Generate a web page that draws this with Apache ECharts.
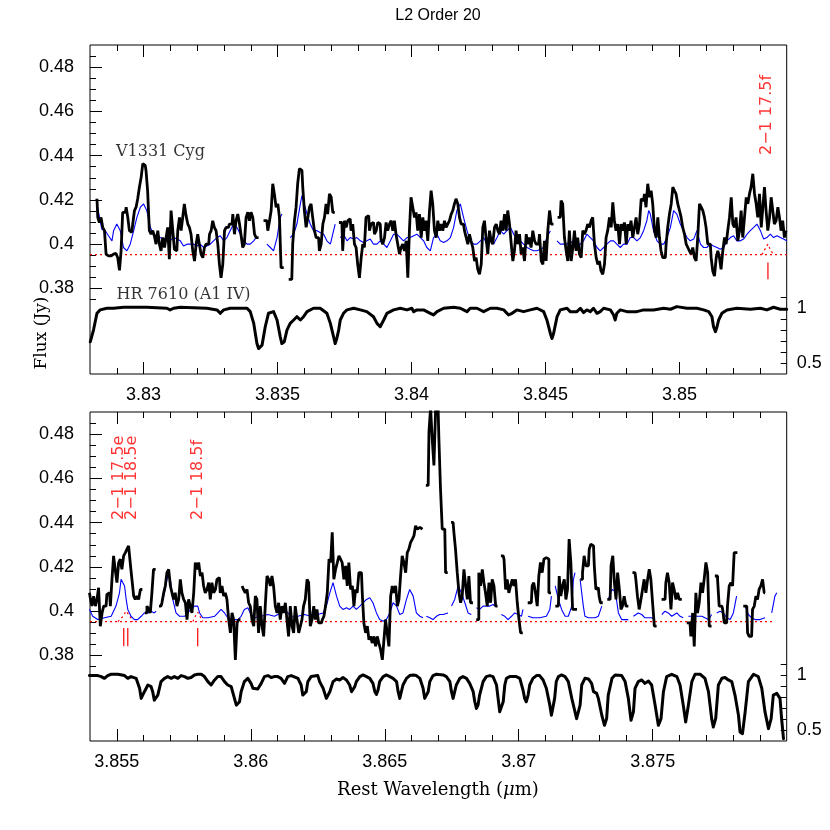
<!DOCTYPE html>
<html>
<head>
<meta charset="utf-8">
<script src="https://cdn.jsdelivr.net/npm/echarts@6/dist/echarts.min.js"></script>
<style>html,body{margin:0;padding:0;background:#fff;}#c{width:830px;height:830px;}</style>
</head>
<body>
<div id="c"></div>
<script>
// ---------------- axis ranges and ticks ----------------
const xRangeTop = [3.828, 3.854];
const xRangeBottom = [3.854, 3.880];
const xMajorTop = [3.83, 3.835, 3.84, 3.845, 3.85];
const xMinorTop = [3.829, 3.831, 3.832, 3.833, 3.834, 3.836, 3.837, 3.838, 3.839, 3.841, 3.842, 3.843, 3.844, 3.846, 3.847, 3.848, 3.849, 3.851, 3.852, 3.853];
const xMajorBottom = [3.855, 3.86, 3.865, 3.87, 3.875];
const xMinorBottom = [3.856, 3.857, 3.858, 3.859, 3.861, 3.862, 3.863, 3.864, 3.866, 3.867, 3.868, 3.869, 3.871, 3.872, 3.873, 3.874, 3.876, 3.877, 3.878, 3.879];
const fluxRange = [0.375, 0.49];
const fluxMajor = [0.38, 0.40, 0.42, 0.44, 0.46, 0.48];
const fluxMinor = [0.375, 0.385, 0.39, 0.395, 0.405, 0.41, 0.415, 0.425, 0.43, 0.435, 0.445, 0.45, 0.455, 0.465, 0.47, 0.475, 0.485];
const hrRange = [0.4, 1.1];
const hrTicks = [0.5, 0.6, 0.7, 0.8, 0.9, 1.0, 1.1];
const hrLabels = [0.5, 1.0];
const continuumTop = [[3.828, 0.3953], [3.854, 0.3953]];
const continuumBottom = [[3.854, 0.3953], [3.8795, 0.3953]];

// ---------------- V1331 Cyg spectrum (black) ----------------
const v1331Top = [[3.82826,0.4205],[3.82832,0.4121],[3.82838,0.4098],[3.82844,0.4121],[3.82851,0.4076],[3.82857,0.4061],[3.82863,0.3955],[3.82869,0.3947],[3.82876,0.3947],[3.82882,0.3952],[3.82888,0.3955],[3.82894,0.3958],[3.82900,0.3962],[3.82907,0.3939],[3.82913,0.3882],[3.82919,0.3970],[3.82925,0.4144],[3.82932,0.4144],[3.82938,0.4167],[3.82944,0.4121],[3.82950,0.4061],[3.82956,0.4053],[3.82963,0.4091],[3.82969,0.4152],[3.82975,0.4167],[3.82981,0.4205],[3.82988,0.4258],[3.82994,0.4303],[3.83000,0.4364],[3.83006,0.4356],[3.83012,0.4333],[3.83018,0.4242],[3.83025,0.4061],[3.83031,0.4045],[3.83037,0.4061],[3.83043,0.4038],[3.83050,0.4000],[3.83056,0.4061],[3.83062,0.4000],[3.83068,0.3970],[3.83075,0.4030],[3.83081,0.3985],[3.83087,0.4030],[3.83093,0.4076],[3.83099,0.3932],[3.83106,0.4152],[3.83112,0.4061],[3.83118,0.3977],[3.83124,0.3970],[3.83131,0.4061],[3.83137,0.4121],[3.83143,0.4061],[3.83149,0.4121],[3.83155,0.4182],[3.83162,0.4129],[3.83168,0.4091],[3.83174,0.4076],[3.83180,0.4045],[3.83187,0.3970],[3.83193,0.3924],[3.83199,0.4000],[3.83205,0.4045],[3.83211,0.4000],[3.83218,0.3955],[3.83224,0.3939],[3.83230,0.3985],[3.83236,0.4000],[3.83243,0.4000],[3.83249,0.4045],[3.83255,0.4061],[3.83261,0.4106],[3.83267,0.4076],[3.83274,0.4061],[3.83280,0.4000],[3.83286,0.3909],[3.83292,0.3848],[3.83299,0.3909],[3.83305,0.4061],[3.83311,0.4076],[3.83317,0.4076],[3.83323,0.4091],[3.83330,0.4091],[3.83336,0.4136],[3.83342,0.4045],[3.83348,0.4106],[3.83355,0.4136],[3.83361,0.4091],[3.83367,0.4038],[3.83373,0.3985],[3.83379,0.4000],[3.83386,0.4121],[3.83392,0.4144],[3.83398,0.4106],[3.83404,0.4144],[3.83411,0.4121],[3.83417,0.4045],[3.83423,0.4030],[3.83435,null],[3.83460,0.4106],[3.83467,0.4061],[3.83473,0.4106],[3.83479,0.4152],[3.83485,0.4273],[3.83491,0.4227],[3.83498,0.4167],[3.83504,0.4182],[3.83510,0.4121],[3.83516,0.3894],[3.83530,null],[3.83553,0.3841],[3.83560,0.4000],[3.83566,0.4106],[3.83572,0.4167],[3.83578,0.4273],[3.83585,0.4341],[3.83591,0.4333],[3.83597,0.4258],[3.83603,0.4152],[3.83610,0.4076],[3.83616,0.4121],[3.83622,0.4167],[3.83628,0.4182],[3.83634,0.4121],[3.83641,0.4061],[3.83647,0.4030],[3.83653,0.4030],[3.83659,0.3970],[3.83666,0.4000],[3.83672,0.4091],[3.83678,0.4121],[3.83684,0.4182],[3.83690,0.4136],[3.83697,0.4227],[3.83703,0.4212],[3.83709,0.4144],[3.83718,null],[3.83740,0.4098],[3.83746,0.3970],[3.83753,0.4106],[3.83759,0.4076],[3.83765,0.4106],[3.83771,0.4114],[3.83777,0.4061],[3.83784,0.4091],[3.83790,0.4000],[3.83796,0.3985],[3.83802,0.3909],[3.83809,0.3848],[3.83815,0.3939],[3.83821,0.4000],[3.83827,0.3985],[3.83833,0.4121],[3.83840,0.4129],[3.83846,0.4061],[3.83852,0.4091],[3.83858,0.4098],[3.83865,0.4045],[3.83871,0.4061],[3.83877,0.4098],[3.83883,0.4091],[3.83889,0.4023],[3.83896,0.4000],[3.83902,0.4030],[3.83908,0.4098],[3.83914,0.4061],[3.83921,0.4091],[3.83927,0.4106],[3.83933,0.4061],[3.83939,0.4106],[3.83945,0.4045],[3.83952,0.4000],[3.83958,0.3955],[3.83964,0.3985],[3.83970,0.4000],[3.83977,0.3970],[3.83983,0.4015],[3.83989,0.3848],[3.83995,0.4061],[3.84001,0.4212],[3.84008,0.4167],[3.84014,0.4121],[3.84020,0.4144],[3.84026,0.4061],[3.84033,0.4136],[3.84039,0.4030],[3.84045,0.4121],[3.84051,0.4061],[3.84057,0.4106],[3.84064,0.4015],[3.84070,0.4152],[3.84076,0.4242],[3.84082,0.4182],[3.84089,0.4061],[3.84095,0.4030],[3.84101,0.4106],[3.84107,0.4061],[3.84113,0.4091],[3.84120,0.4061],[3.84126,0.4106],[3.84132,0.4076],[3.84138,0.4091],[3.84145,0.4106],[3.84151,0.4136],[3.84157,0.4152],[3.84163,0.4182],[3.84169,0.4205],[3.84176,0.4182],[3.84182,0.4121],[3.84188,0.4091],[3.84194,0.4091],[3.84201,0.4061],[3.84207,0.4030],[3.84213,0.4000],[3.84219,0.4045],[3.84225,0.4015],[3.84232,0.3985],[3.84238,0.3924],[3.84244,0.3939],[3.84250,0.3886],[3.84257,0.3864],[3.84263,0.3909],[3.84269,0.4076],[3.84275,0.4106],[3.84281,0.4030],[3.84288,0.3955],[3.84294,0.4061],[3.84300,0.4015],[3.84306,0.4000],[3.84313,0.4076],[3.84319,0.4091],[3.84325,0.4061],[3.84331,0.4045],[3.84337,0.4106],[3.84344,0.4061],[3.84350,0.4136],[3.84356,0.4061],[3.84362,0.4152],[3.84369,0.4091],[3.84375,0.4000],[3.84381,0.3924],[3.84387,0.3970],[3.84393,0.4061],[3.84400,0.4000],[3.84406,0.4045],[3.84412,0.3955],[3.84418,0.3985],[3.84425,0.3924],[3.84431,0.4045],[3.84437,0.4000],[3.84443,0.4030],[3.84449,0.3985],[3.84456,0.4061],[3.84462,0.4015],[3.84468,0.4000],[3.84474,0.4000],[3.84481,0.4045],[3.84487,0.3924],[3.84493,0.3909],[3.84499,0.4015],[3.84505,0.3924],[3.84512,0.4061],[3.84518,0.4152],[3.84524,0.4091],[3.84535,null],[3.84555,0.4121],[3.84561,0.4197],[3.84567,0.4182],[3.84574,0.4030],[3.84580,0.3970],[3.84586,0.3924],[3.84592,0.4061],[3.84599,0.3924],[3.84605,0.3985],[3.84611,0.4061],[3.84617,0.3970],[3.84623,0.4030],[3.84630,0.3955],[3.84636,0.3939],[3.84642,0.4061],[3.84648,0.4045],[3.84654,0.4061],[3.84661,0.4091],[3.84667,0.4076],[3.84673,0.4106],[3.84679,0.4121],[3.84686,0.4000],[3.84692,0.3939],[3.84698,0.3909],[3.84704,0.3924],[3.84710,0.3879],[3.84717,0.3864],[3.84723,0.3909],[3.84729,0.4030],[3.84735,0.4061],[3.84742,0.4121],[3.84748,0.4076],[3.84754,0.4189],[3.84760,0.4106],[3.84766,0.4061],[3.84773,0.4091],[3.84779,0.4000],[3.84785,0.4091],[3.84791,0.4061],[3.84798,0.4098],[3.84804,0.4000],[3.84810,0.4091],[3.84816,0.4061],[3.84822,0.4106],[3.84829,0.4030],[3.84835,0.4076],[3.84841,0.4121],[3.84847,0.4045],[3.84854,0.4091],[3.84860,0.4205],[3.84866,0.4197],[3.84872,0.4227],[3.84878,0.4167],[3.84885,0.4273],[3.84891,0.4212],[3.84897,0.4242],[3.84903,0.4182],[3.84910,0.4061],[3.84916,0.4030],[3.84922,0.4121],[3.84928,0.4030],[3.84934,0.3970],[3.84941,0.3939],[3.84947,0.3939],[3.84953,0.4000],[3.84959,0.4076],[3.84966,0.4136],[3.84972,0.4182],[3.84978,0.4258],[3.84984,0.4242],[3.84990,0.4227],[3.84997,0.4182],[3.85003,0.4152],[3.85009,0.4121],[3.85015,0.4076],[3.85022,0.4045],[3.85028,0.4000],[3.85034,0.3985],[3.85040,0.3970],[3.85046,0.3955],[3.85053,0.3985],[3.85059,0.3939],[3.85065,0.3924],[3.85071,0.4030],[3.85078,0.4182],[3.85084,0.4167],[3.85090,0.4152],[3.85096,0.4121],[3.85102,0.4076],[3.85109,0.4000],[3.85115,0.4000],[3.85121,0.3939],[3.85127,0.3879],[3.85134,0.3856],[3.85140,0.3939],[3.85146,0.3970],[3.85152,0.3939],[3.85158,0.3886],[3.85165,0.3970],[3.85171,0.4030],[3.85177,0.4000],[3.85183,0.4061],[3.85190,0.4121],[3.85196,0.4212],[3.85202,0.4091],[3.85208,0.4076],[3.85214,0.4121],[3.85221,0.4015],[3.85227,0.4061],[3.85233,0.4152],[3.85239,0.4030],[3.85246,0.4121],[3.85252,0.4212],[3.85258,0.4182],[3.85264,0.4227],[3.85270,0.4258],[3.85277,0.4318],[3.85283,0.4227],[3.85289,0.4182],[3.85295,0.4121],[3.85302,0.4227],[3.85308,0.4076],[3.85314,0.4167],[3.85320,0.4258],[3.85326,0.4152],[3.85333,0.4061],[3.85339,0.4121],[3.85345,0.4212],[3.85351,0.4152],[3.85357,0.4091],[3.85364,0.4106],[3.85370,0.4167],[3.85376,0.4121],[3.85382,0.4061],[3.85388,0.4106],[3.85395,0.4030],[3.85400,0.4061]];

const v1331Bottom = [[3.85398,0.4083],[3.85404,0.4061],[3.85410,0.4023],[3.85417,0.4068],[3.85423,0.4023],[3.85429,0.4053],[3.85435,0.4106],[3.85442,0.3932],[3.85448,0.3992],[3.85454,0.4023],[3.85460,0.4023],[3.85466,0.4076],[3.85473,0.4083],[3.85479,0.4023],[3.85485,0.4144],[3.85491,0.4250],[3.85497,0.4189],[3.85504,0.4129],[3.85510,0.4220],[3.85516,0.4235],[3.85522,0.4189],[3.85529,0.4250],[3.85535,0.4265],[3.85541,0.4280],[3.85547,0.4295],[3.85553,0.4220],[3.85560,0.4144],[3.85566,0.4068],[3.85572,0.4053],[3.85578,0.4068],[3.85585,0.4053],[3.85591,0.4098],[3.85600,null],[3.85609,0.3992],[3.85616,0.4023],[3.85622,0.4008],[3.85628,0.3992],[3.85634,0.4083],[3.85640,0.4189],[3.85650,null],[3.85665,0.4023],[3.85672,0.4038],[3.85678,0.4083],[3.85684,0.4114],[3.85690,0.4174],[3.85697,0.4189],[3.85703,0.4114],[3.85709,0.4083],[3.85715,0.4053],[3.85721,0.4083],[3.85728,0.4023],[3.85734,0.4053],[3.85740,0.4144],[3.85746,0.4083],[3.85753,0.4053],[3.85759,0.4038],[3.85765,0.3962],[3.85771,0.4053],[3.85777,0.4023],[3.85784,0.3992],[3.85790,0.4083],[3.85796,0.4220],[3.85802,0.4189],[3.85809,0.4220],[3.85815,0.4159],[3.85821,0.4174],[3.85827,0.4114],[3.85833,0.4083],[3.85840,0.4098],[3.85846,0.4129],[3.85852,0.4053],[3.85858,0.4129],[3.85865,0.4083],[3.85871,0.4098],[3.85877,0.4144],[3.85883,0.4152],[3.85889,0.4083],[3.85896,0.4114],[3.85902,0.4068],[3.85908,0.4083],[3.85914,0.4053],[3.85921,0.3962],[3.85927,0.3902],[3.85933,0.3992],[3.85939,0.3962],[3.85946,0.3780],[3.85952,0.3947],[3.85958,0.3962],[3.85965,null],[3.85970,0.4114],[3.85976,0.4098],[3.85983,0.4083],[3.85989,0.4098],[3.85995,0.4038],[3.86001,0.4023],[3.86008,0.3962],[3.86014,0.3932],[3.86020,0.4068],[3.86026,0.4053],[3.86032,0.3902],[3.86039,0.4023],[3.86045,0.3932],[3.86051,0.3886],[3.86057,0.4023],[3.86064,0.4159],[3.86070,0.4144],[3.86076,0.4114],[3.86082,0.4159],[3.86088,0.4114],[3.86095,0.4023],[3.86101,0.3992],[3.86107,0.4038],[3.86113,0.3962],[3.86120,0.4023],[3.86126,0.3992],[3.86132,0.4038],[3.86138,0.3962],[3.86144,0.3886],[3.86151,0.4023],[3.86157,0.3932],[3.86163,0.3902],[3.86169,0.4023],[3.86176,0.3962],[3.86182,0.3902],[3.86188,0.3932],[3.86194,0.3962],[3.86200,0.4023],[3.86207,0.4053],[3.86213,0.4144],[3.86219,0.4129],[3.86225,0.3932],[3.86232,0.3962],[3.86238,0.4023],[3.86244,0.3962],[3.86250,0.4008],[3.86256,0.3947],[3.86264,0.3947],[3.86270,0.3962],[3.86276,0.3977],[3.86282,0.4023],[3.86289,0.4083],[3.86295,0.4235],[3.86301,0.4220],[3.86307,0.4356],[3.86313,0.4144],[3.86320,0.4189],[3.86326,0.4220],[3.86332,0.4250],[3.86338,0.4235],[3.86344,0.4220],[3.86351,0.4144],[3.86357,0.4205],[3.86363,0.4114],[3.86369,0.4220],[3.86376,0.4098],[3.86382,0.4114],[3.86388,0.4023],[3.86394,0.4098],[3.86400,0.4083],[3.86407,0.4174],[3.86413,0.4174],[3.86419,0.4083],[3.86425,0.3947],[3.86432,0.3902],[3.86438,0.3932],[3.86444,0.3871],[3.86450,0.3886],[3.86456,0.3856],[3.86463,0.3886],[3.86469,0.3841],[3.86475,0.3886],[3.86481,0.3856],[3.86488,0.3826],[3.86494,0.3780],[3.86500,0.3871],[3.86506,0.3962],[3.86512,0.3902],[3.86519,0.3841],[3.86525,0.4068],[3.86531,0.4114],[3.86537,0.4083],[3.86544,0.4114],[3.86550,0.4023],[3.86556,0.4053],[3.86562,0.4159],[3.86568,0.4250],[3.86575,0.4220],[3.86581,0.4174],[3.86587,0.4265],[3.86593,0.4280],[3.86600,0.4311],[3.86606,0.4326],[3.86612,0.4341],[3.86618,0.4386],[3.86624,0.4371],[3.86631,0.4379],[3.86637,0.4371],[3.86645,null],[3.86662,0.4568],[3.86668,0.4811],[3.86674,0.4920],[3.86680,0.4780],[3.86687,0.4659],[3.86693,0.4920],[3.86699,0.4920],[3.86705,0.4780],[3.86711,0.4553],[3.86718,0.4371],[3.86724,0.4371],[3.86730,0.4174],[3.86740,null],[3.86755,0.4401],[3.86761,0.4356],[3.86767,0.4280],[3.86774,0.4174],[3.86780,0.4083],[3.86786,0.4038],[3.86792,0.4068],[3.86799,0.4189],[3.86805,0.4114],[3.86811,0.4053],[3.86817,0.4159],[3.86823,0.4038],[3.86835,null],[3.86848,0.3962],[3.86854,0.4174],[3.86861,0.4114],[3.86867,0.4189],[3.86873,0.4129],[3.86879,0.4083],[3.86886,0.4023],[3.86892,0.4129],[3.86898,0.4038],[3.86904,0.4144],[3.86911,0.4114],[3.86917,0.4023],[3.86925,null],[3.86942,0.4250],[3.86948,0.4235],[3.86954,0.4098],[3.86960,0.4144],[3.86966,0.4083],[3.86973,0.4114],[3.86979,0.4144],[3.86985,0.4114],[3.86991,0.4144],[3.86998,0.4038],[3.87004,0.3962],[3.87010,0.3902],[3.87020,null],[3.87047,0.4038],[3.87053,0.4114],[3.87059,0.4129],[3.87066,0.4083],[3.87072,0.4023],[3.87078,0.4159],[3.87084,0.4220],[3.87091,0.4174],[3.87097,0.4235],[3.87103,0.4242],[3.87109,0.4235],[3.87116,0.4083],[3.87125,null],[3.87148,0.4023],[3.87154,0.4159],[3.87160,0.4068],[3.87167,0.4114],[3.87173,0.4144],[3.87179,0.4053],[3.87185,0.4098],[3.87191,0.4326],[3.87198,0.4220],[3.87204,0.4008],[3.87210,0.4008],[3.87225,null],[3.87235,0.4144],[3.87241,0.4174],[3.87247,0.4250],[3.87254,0.4205],[3.87260,0.4205],[3.87266,0.4280],[3.87272,0.4303],[3.87279,0.4295],[3.87285,0.4205],[3.87291,0.4098],[3.87297,0.4106],[3.87303,0.4068],[3.87307,0.4038],[3.87320,null],[3.87341,0.4053],[3.87348,0.4205],[3.87354,0.4250],[3.87360,0.4129],[3.87366,0.4053],[3.87372,0.4174],[3.87379,0.4098],[3.87384,0.4008],[3.87390,0.4023],[3.87397,0.4068],[3.87403,0.4023],[3.87415,null],[3.87434,0.4174],[3.87440,0.4144],[3.87446,0.4068],[3.87453,0.4008],[3.87459,0.4053],[3.87465,0.4098],[3.87471,0.4144],[3.87478,0.4083],[3.87484,0.4144],[3.87490,0.4189],[3.87496,0.4144],[3.87503,0.4038],[3.87509,0.3932],[3.87520,null],[3.87546,0.4053],[3.87552,0.4129],[3.87558,0.4174],[3.87565,0.4129],[3.87571,0.4008],[3.87577,0.4129],[3.87583,0.4098],[3.87590,0.4053],[3.87596,0.4083],[3.87602,0.4053],[3.87615,null],[3.87639,0.3947],[3.87646,0.3886],[3.87652,0.3992],[3.87658,0.3841],[3.87664,0.4083],[3.87670,0.3992],[3.87677,0.4038],[3.87683,0.4129],[3.87689,0.4083],[3.87695,0.4144],[3.87702,0.4220],[3.87708,0.4174],[3.87714,0.3932],[3.87725,null],[3.87739,0.4159],[3.87745,0.4144],[3.87751,0.4023],[3.87758,0.4023],[3.87764,0.4008],[3.87770,0.3947],[3.87776,0.3947],[3.87782,0.4023],[3.87789,0.4114],[3.87795,0.4129],[3.87801,0.4114],[3.87807,0.4265],[3.87825,null],[3.87851,0.4023],[3.87857,0.3902],[3.87863,0.3886],[3.87869,0.3886],[3.87876,0.4008],[3.87882,0.4023],[3.87888,0.4068],[3.87894,0.4053],[3.87900,0.4098],[3.87907,0.4114],[3.87913,0.4144],[3.87919,0.4083]];

// ---------------- model spectrum (blue) ----------------
const modelTop = [[3.82823,0.4205],[3.82832,0.4144],[3.82844,0.4068],[3.82857,0.4061],[3.82869,0.4038],[3.82882,0.4015],[3.82888,0.4061],[3.82900,0.4091],[3.82913,0.4061],[3.82925,0.3985],[3.82938,0.3970],[3.82950,0.4000],[3.82963,0.4061],[3.82975,0.4121],[3.82988,0.4167],[3.83000,0.4182],[3.83012,0.4152],[3.83025,0.4076],[3.83037,0.4045],[3.83050,0.4038],[3.83062,0.4030],[3.83075,0.4023],[3.83087,0.4030],[3.83099,0.4015],[3.83112,0.4030],[3.83124,0.4023],[3.83137,0.4015],[3.83149,0.3992],[3.83162,0.4000],[3.83174,0.4000],[3.83187,0.4000],[3.83199,0.3992],[3.83211,0.4000],[3.83224,0.3985],[3.83236,0.3992],[3.83249,0.4000],[3.83261,0.4015],[3.83274,0.4030],[3.83286,0.4038],[3.83299,0.4015],[3.83311,0.4030],[3.83323,0.4061],[3.83336,0.4091],[3.83348,0.4076],[3.83361,0.4045],[3.83373,0.4015],[3.83386,0.4000],[3.83398,0.4000],[3.83411,0.4015],[3.83420,0.4030],[3.83435,null],[3.83460,0.4000],[3.83473,0.3985],[3.83485,0.3970],[3.83498,0.4030],[3.83510,0.4121],[3.83516,0.4136],[3.83530,null],[3.83547,0.4030],[3.83560,0.4045],[3.83572,0.4091],[3.83585,0.4182],[3.83591,0.4220],[3.83597,0.4212],[3.83610,0.4136],[3.83622,0.4091],[3.83634,0.4061],[3.83647,0.4061],[3.83659,0.4053],[3.83672,0.4045],[3.83684,0.4015],[3.83697,0.4000],[3.83709,0.4061],[3.83715,0.4091],[3.83725,null],[3.83734,0.4030],[3.83746,0.4045],[3.83759,0.4015],[3.83771,0.4030],[3.83784,0.4023],[3.83796,0.4030],[3.83809,0.4015],[3.83821,0.4008],[3.83833,0.4015],[3.83846,0.4023],[3.83858,0.4000],[3.83871,0.4000],[3.83883,0.4015],[3.83896,0.4000],[3.83908,0.3985],[3.83921,0.4015],[3.83933,0.4045],[3.83945,0.4045],[3.83958,0.4030],[3.83970,0.4015],[3.83983,0.4030],[3.83995,0.4030],[3.84008,0.4038],[3.84020,0.4045],[3.84033,0.4030],[3.84045,0.4015],[3.84057,0.3985],[3.84070,0.3970],[3.84082,0.4030],[3.84095,0.4045],[3.84107,0.4015],[3.84120,0.4008],[3.84132,0.4015],[3.84145,0.4030],[3.84157,0.4076],[3.84169,0.4152],[3.84182,0.4182],[3.84194,0.4121],[3.84207,0.4061],[3.84219,0.4015],[3.84232,0.4000],[3.84244,0.4000],[3.84257,0.4015],[3.84269,0.4030],[3.84281,0.4000],[3.84294,0.4015],[3.84306,0.4000],[3.84319,0.4030],[3.84331,0.4061],[3.84344,0.4045],[3.84356,0.4061],[3.84369,0.4076],[3.84381,0.4045],[3.84393,0.4023],[3.84406,0.4015],[3.84418,0.4000],[3.84431,0.3985],[3.84443,0.3977],[3.84456,0.3970],[3.84468,0.3970],[3.84481,0.3977],[3.84493,0.3985],[3.84505,0.4030],[3.84518,0.4061],[3.84535,null],[3.84543,0.4015],[3.84555,0.4000],[3.84567,0.4000],[3.84580,0.4000],[3.84592,0.4015],[3.84605,0.4000],[3.84617,0.4000],[3.84630,0.4000],[3.84642,0.4015],[3.84654,0.4045],[3.84667,0.4030],[3.84679,0.4015],[3.84692,0.3985],[3.84704,0.3970],[3.84717,0.3985],[3.84729,0.4000],[3.84742,0.4015],[3.84754,0.4015],[3.84766,0.4000],[3.84779,0.3985],[3.84791,0.4000],[3.84804,0.4000],[3.84816,0.4030],[3.84829,0.4030],[3.84841,0.4015],[3.84854,0.4030],[3.84866,0.4061],[3.84878,0.4106],[3.84885,0.4152],[3.84891,0.4136],[3.84903,0.4061],[3.84916,0.4015],[3.84928,0.4000],[3.84941,0.4000],[3.84953,0.4030],[3.84966,0.4076],[3.84978,0.4152],[3.84990,0.4136],[3.85003,0.4091],[3.85015,0.4061],[3.85028,0.4030],[3.85040,0.4015],[3.85053,0.4023],[3.85065,0.4061],[3.85078,0.4000],[3.85090,0.3985],[3.85102,0.3985],[3.85115,0.4000],[3.85127,0.3992],[3.85140,0.3985],[3.85152,0.3977],[3.85165,0.3985],[3.85177,0.4015],[3.85190,0.4030],[3.85202,0.4038],[3.85214,0.4015],[3.85227,0.4015],[3.85239,0.4023],[3.85252,0.4045],[3.85264,0.4061],[3.85277,0.4076],[3.85289,0.4091],[3.85302,0.4061],[3.85314,0.4023],[3.85326,0.4030],[3.85339,0.4045],[3.85351,0.4030],[3.85364,0.4038],[3.85376,0.4030],[3.85388,0.4023],[3.85400,0.4015]];

const modelBottom = [[3.85398,0.4008],[3.85410,0.3977],[3.85429,0.3962],[3.85454,0.3970],[3.85479,0.3977],[3.85497,0.4023],[3.85510,0.4083],[3.85516,0.4144],[3.85522,0.4152],[3.85529,0.4114],[3.85535,0.4053],[3.85541,0.4008],[3.85553,0.3977],[3.85566,0.3962],[3.85578,0.3962],[3.85591,0.3977],[3.85603,0.3992],[3.85616,0.3992],[3.85628,0.4000],[3.85640,0.3992],[3.85647,0.4000],[3.85655,null],[3.85665,0.4023],[3.85678,0.4083],[3.85690,0.4159],[3.85700,0.4144],[3.85709,0.4053],[3.85721,0.3992],[3.85734,0.3977],[3.85753,0.3977],[3.85765,0.3992],[3.85777,0.4008],[3.85790,0.4023],[3.85802,0.4023],[3.85809,0.3992],[3.85821,0.3970],[3.85840,0.3970],[3.85865,0.3977],[3.85877,0.3992],[3.85889,0.4008],[3.85896,0.4015],[3.85902,0.3992],[3.85914,0.3970],[3.85927,0.3962],[3.85952,0.3962],[3.85964,0.3977],[3.85976,0.4008],[3.85989,0.4015],[3.86001,0.3985],[3.86014,0.3970],[3.86039,0.3977],[3.86064,0.3985],[3.86088,0.3977],[3.86113,0.3992],[3.86126,0.4008],[3.86138,0.3992],[3.86151,0.3977],[3.86176,0.3977],[3.86200,0.3985],[3.86225,0.3977],[3.86250,0.3985],[3.86270,0.3992],[3.86282,0.4023],[3.86295,0.4083],[3.86307,0.4129],[3.86320,0.4068],[3.86332,0.4023],[3.86344,0.4008],[3.86357,0.4015],[3.86369,0.4008],[3.86382,0.4023],[3.86394,0.4008],[3.86407,0.4023],[3.86419,0.4038],[3.86432,0.4053],[3.86444,0.4061],[3.86456,0.4038],[3.86469,0.3992],[3.86481,0.3962],[3.86494,0.3955],[3.86506,0.3962],[3.86519,0.3992],[3.86531,0.4038],[3.86544,0.4023],[3.86556,0.3985],[3.86568,0.3992],[3.86581,0.4053],[3.86593,0.4098],[3.86600,0.4106],[3.86606,0.4068],[3.86618,0.3992],[3.86631,0.3977],[3.86643,0.3970],[3.86650,null],[3.86655,0.3977],[3.86668,0.3970],[3.86680,0.3962],[3.86693,0.3977],[3.86705,0.3985],[3.86718,0.3985],[3.86736,0.3992],[3.86743,null],[3.86749,0.4023],[3.86761,0.4053],[3.86774,0.4114],[3.86780,0.4106],[3.86786,0.4083],[3.86799,0.4038],[3.86811,0.3992],[3.86823,0.3985],[3.86835,null],[3.86842,0.4015],[3.86854,0.4008],[3.86867,0.4023],[3.86879,0.4023],[3.86892,0.4023],[3.86904,0.4030],[3.86911,0.4023],[3.86925,null],[3.86935,0.3985],[3.86948,0.3977],[3.86960,0.3962],[3.86973,0.3977],[3.86985,0.3992],[3.86998,0.3985],[3.87010,0.3977],[3.87016,0.4008],[3.87025,null],[3.87035,0.3977],[3.87053,0.3970],[3.87078,0.3970],[3.87103,0.3977],[3.87116,0.4008],[3.87122,0.4068],[3.87130,null],[3.87136,0.4114],[3.87148,0.4053],[3.87160,0.4008],[3.87173,0.3977],[3.87185,0.3977],[3.87198,0.4023],[3.87204,0.4144],[3.87210,0.4174],[3.87220,null],[3.87229,0.4144],[3.87241,0.4023],[3.87247,0.3977],[3.87260,0.3970],[3.87285,0.3970],[3.87297,0.3977],[3.87310,0.4023],[3.87320,null],[3.87334,0.4053],[3.87348,0.4098],[3.87360,0.4091],[3.87372,0.3992],[3.87384,0.3962],[3.87397,0.3962],[3.87409,0.3962],[3.87418,null],[3.87428,0.3977],[3.87446,0.3992],[3.87459,0.3985],[3.87471,0.3970],[3.87496,0.3970],[3.87509,0.3962],[3.87520,null],[3.87534,0.3985],[3.87546,0.4000],[3.87558,0.3992],[3.87571,0.3977],[3.87590,0.3992],[3.87602,0.3977],[3.87614,0.3970],[3.87622,null],[3.87633,0.3977],[3.87658,0.3977],[3.87683,0.3977],[3.87708,0.3962],[3.87720,0.3985],[3.87728,null],[3.87739,0.3992],[3.87751,0.4000],[3.87764,0.3992],[3.87776,0.3970],[3.87789,0.3962],[3.87801,0.3992],[3.87813,0.4068],[3.87825,null],[3.87845,0.4023],[3.87857,0.3985],[3.87869,0.3970],[3.87882,0.3962],[3.87900,0.3962],[3.87919,0.3970],[3.87930,null],[3.87944,0.3992],[3.87956,0.4068],[3.87963,0.4083]];

// ---------------- HR 7610 (A1 IV) normalised spectrum ----------------
const hrTop = [[3.82801,0.694],[3.82813,0.801],[3.82826,0.954],[3.82838,0.985],[3.82863,1.000],[3.82888,1.000],[3.82925,1.009],[3.83012,1.009],[3.83087,1.000],[3.83099,0.985],[3.83112,1.000],[3.83137,1.009],[3.83236,1.000],[3.83274,0.985],[3.83286,0.954],[3.83299,0.985],[3.83323,1.000],[3.83386,1.000],[3.83398,0.969],[3.83411,0.862],[3.83423,0.678],[3.83429,0.632],[3.83442,0.663],[3.83454,0.831],[3.83466,0.954],[3.83485,0.969],[3.83498,0.893],[3.83510,0.740],[3.83516,0.678],[3.83525,0.694],[3.83535,0.801],[3.83547,0.862],[3.83560,0.893],[3.83572,0.923],[3.83585,0.893],[3.83597,0.923],[3.83610,0.969],[3.83634,1.000],[3.83659,1.000],[3.83684,0.954],[3.83697,0.862],[3.83703,0.801],[3.83709,0.740],[3.83715,0.678],[3.83721,0.724],[3.83728,0.801],[3.83734,0.893],[3.83746,0.954],[3.83759,0.985],[3.83784,1.000],[3.83809,0.985],[3.83833,0.969],[3.83858,0.923],[3.83871,0.862],[3.83883,0.831],[3.83896,0.893],[3.83908,0.954],[3.83933,0.985],[3.83958,1.000],[3.83983,0.985],[3.84001,1.000],[3.84008,0.969],[3.84020,0.985],[3.84045,0.985],[3.84070,0.954],[3.84082,0.939],[3.84095,0.969],[3.84120,1.000],[3.84157,1.009],[3.84182,1.000],[3.84194,0.985],[3.84207,0.969],[3.84219,1.000],[3.84244,1.000],[3.84269,0.969],[3.84294,1.000],[3.84319,1.000],[3.84344,0.985],[3.84362,0.939],[3.84375,0.954],[3.84393,0.985],[3.84418,0.969],[3.84443,0.985],[3.84468,1.000],[3.84493,0.969],[3.84505,0.893],[3.84518,0.770],[3.84524,0.724],[3.84530,0.770],[3.84543,0.923],[3.84555,0.985],[3.84580,1.000],[3.84592,0.969],[3.84617,0.969],[3.84630,1.000],[3.84642,0.960],[3.84654,0.985],[3.84667,0.969],[3.84679,1.000],[3.84692,0.954],[3.84704,0.969],[3.84717,1.000],[3.84742,0.985],[3.84754,0.939],[3.84760,0.893],[3.84766,0.954],[3.84779,0.985],[3.84804,0.969],[3.84841,0.969],[3.84866,0.985],[3.84903,0.985],[3.84941,1.000],[3.84966,0.991],[3.84990,1.015],[3.85028,1.000],[3.85065,1.000],[3.85090,0.985],[3.85109,0.969],[3.85121,0.923],[3.85127,0.831],[3.85134,0.786],[3.85140,0.831],[3.85146,0.893],[3.85158,0.954],[3.85177,0.985],[3.85214,1.000],[3.85264,0.991],[3.85302,1.000],[3.85326,0.985],[3.85351,1.009],[3.85376,0.991],[3.85400,0.991]];

const hrBottom = [[3.85398,0.997],[3.85429,0.997],[3.85442,0.988],[3.85454,0.972],[3.85466,0.997],[3.85479,1.009],[3.85504,1.009],[3.85529,0.997],[3.85541,0.972],[3.85553,0.988],[3.85572,0.972],[3.85585,0.881],[3.85591,0.789],[3.85597,0.773],[3.85603,0.850],[3.85616,0.911],[3.85628,0.896],[3.85634,0.850],[3.85640,0.773],[3.85647,0.758],[3.85653,0.819],[3.85665,0.942],[3.85678,0.972],[3.85690,0.988],[3.85703,0.972],[3.85715,0.988],[3.85728,0.972],[3.85740,0.997],[3.85753,0.988],[3.85765,0.972],[3.85777,0.979],[3.85790,1.003],[3.85802,1.009],[3.85815,1.009],[3.85827,0.988],[3.85840,0.942],[3.85852,0.911],[3.85865,0.957],[3.85877,0.988],[3.85889,0.988],[3.85902,0.942],[3.85914,0.911],[3.85927,0.896],[3.85939,0.789],[3.85946,0.727],[3.85952,0.712],[3.85958,0.758],[3.85964,0.850],[3.85976,0.942],[3.85989,0.972],[3.86001,0.926],[3.86008,0.881],[3.86014,0.865],[3.86026,0.874],[3.86039,0.926],[3.86051,0.988],[3.86064,0.997],[3.86076,0.979],[3.86088,0.988],[3.86101,0.988],[3.86113,0.972],[3.86126,0.926],[3.86132,0.942],[3.86138,0.988],[3.86151,0.997],[3.86176,0.972],[3.86188,0.911],[3.86194,0.819],[3.86200,0.804],[3.86207,0.850],[3.86213,0.942],[3.86225,0.988],[3.86250,0.997],[3.86257,0.942],[3.86270,0.881],[3.86282,0.789],[3.86289,0.789],[3.86295,0.850],[3.86307,0.942],[3.86320,0.966],[3.86332,0.957],[3.86344,0.979],[3.86357,0.957],[3.86369,0.911],[3.86376,0.850],[3.86382,0.835],[3.86388,0.896],[3.86394,0.942],[3.86407,0.988],[3.86419,1.003],[3.86432,0.988],[3.86444,0.972],[3.86456,0.926],[3.86463,0.850],[3.86469,0.825],[3.86475,0.865],[3.86481,0.942],[3.86494,0.988],[3.86506,1.003],[3.86519,0.988],[3.86531,0.972],[3.86544,0.942],[3.86550,0.850],[3.86556,0.789],[3.86562,0.804],[3.86568,0.911],[3.86581,0.972],[3.86593,0.997],[3.86606,1.003],[3.86618,0.997],[3.86631,0.972],[3.86643,0.881],[3.86649,0.789],[3.86655,0.773],[3.86662,0.850],[3.86668,0.942],[3.86680,0.997],[3.86693,1.009],[3.86718,1.003],[3.86730,0.988],[3.86743,0.942],[3.86749,0.850],[3.86755,0.789],[3.86761,0.850],[3.86767,0.911],[3.86780,0.972],[3.86792,0.988],[3.86805,0.972],[3.86817,0.926],[3.86830,0.850],[3.86836,0.758],[3.86842,0.697],[3.86848,0.727],[3.86854,0.819],[3.86867,0.942],[3.86879,0.988],[3.86892,0.997],[3.86904,0.988],[3.86917,0.911],[3.86923,0.789],[3.86929,0.666],[3.86935,0.651],[3.86942,0.758],[3.86948,0.911],[3.86954,0.972],[3.86966,0.988],[3.86991,0.988],[3.87004,0.972],[3.87016,0.865],[3.87022,0.789],[3.87028,0.758],[3.87035,0.819],[3.87041,0.911],[3.87053,0.972],[3.87066,0.997],[3.87078,0.997],[3.87091,0.957],[3.87103,0.881],[3.87116,0.727],[3.87122,0.635],[3.87128,0.620],[3.87134,0.789],[3.87140,0.942],[3.87148,0.988],[3.87160,1.003],[3.87173,0.988],[3.87185,0.942],[3.87198,0.789],[3.87210,0.666],[3.87216,0.604],[3.87223,0.604],[3.87229,0.727],[3.87235,0.911],[3.87247,0.972],[3.87260,0.966],[3.87272,0.926],[3.87279,0.850],[3.87291,0.835],[3.87297,0.789],[3.87310,0.635],[3.87320,0.543],[3.87328,0.604],[3.87334,0.819],[3.87348,0.972],[3.87360,1.003],[3.87384,0.997],[3.87397,0.942],[3.87409,0.789],[3.87419,0.589],[3.87428,0.666],[3.87434,0.881],[3.87446,0.942],[3.87459,0.957],[3.87471,0.926],[3.87484,0.948],[3.87496,0.911],[3.87509,0.727],[3.87521,0.543],[3.87531,0.604],[3.87540,0.850],[3.87552,0.988],[3.87571,1.009],[3.87590,0.988],[3.87602,0.911],[3.87614,0.727],[3.87623,0.574],[3.87633,0.727],[3.87646,0.942],[3.87658,1.009],[3.87677,1.009],[3.87695,0.972],[3.87708,0.850],[3.87720,0.604],[3.87726,0.528],[3.87735,0.604],[3.87745,0.911],[3.87758,0.972],[3.87770,0.979],[3.87782,0.957],[3.87795,0.942],[3.87807,0.819],[3.87820,0.635],[3.87826,0.482],[3.87835,0.467],[3.87845,0.666],[3.87857,0.942],[3.87876,1.009],[3.87894,0.988],[3.87907,0.881],[3.87919,0.666],[3.87932,0.513],[3.87942,0.604],[3.87950,0.819],[3.87963,0.835],[3.87975,0.789],[3.87981,0.604],[3.87988,0.421]];

// ---------------- line identifications (red) ----------------
const lineBumpsTop = [[3.85308,0.3953],[3.85320,0.3980],[3.85330,0.4000],[3.85339,0.3975],[3.85351,0.3953]];
const lineBumpsBottom = [[3.85504,0.3953],[3.85522,0.3975],[3.85535,0.4000],[3.85547,0.3980],[3.85560,0.3953],[3.85570,null],[3.85784,0.3953],[3.85796,0.3985],[3.85802,0.3995],[3.85809,0.3980],[3.85821,0.3953]];
const markersTop = [[3.85330,0.3842],[3.85330,0.3917]];
const markersBottom = [[3.85526,0.3841],[3.85526,0.3924],[3.85533,null],[3.85541,0.3841],[3.85541,0.3924],[3.85600,null],[3.85802,0.3841],[3.85802,0.3924]];
const lineLabelsTop = [{name:'2\u22121 17.5f', at:[3.85327, 0.4403]}];
const lineLabelsBottom = [{name:'2\u22121 17.5e', at:[3.85508, 0.4412]}, {name:'2\u22121 18.5e', at:[3.85556, 0.4412]}, {name:'2\u22121 18.5f', at:[3.85802, 0.4412]}];
const starLabels = [{name:'V1331 Cyg', at:[3.82897, 0.4416]}, {name:'HR 7610 (A1 IV)', at:[3.82899, 0.3770]}];

// ---------------- layout ----------------
const PLOT_LEFT = 90, PLOT_W = 696.7, PANEL_H = 329, UPPER_H = 254.5, LOWER_TOP = 252.3, LOWER_H = 76.7;
const SANS = '"Liberation Sans", Arial, sans-serif';
const LSANS = '"DejaVu Sans", sans-serif';
const SERIF = '"DejaVu Serif", serif';

const option = {animation:false, grid:[], xAxis:[], yAxis:[], series:[], graphic:[]};

function tickAxis(base, values, len, withLabels, fmt) {
  return Object.assign({
    type:'value', axisLine:{show:false}, splitLine:{show:false},
    axisTick:{show:true, inside:true, length:len, customValues:values, lineStyle:{color:'#000', width:1}},
    axisLabel:{show:!!withLabels, customValues:values, color:'#000', fontSize:18, fontFamily:SANS, formatter:fmt}
  }, base);
}

function buildPanel(top, xr, xMaj, xMin, black, blue, hr, cont, bumps, markers, labels, addStars) {
  const g0 = option.grid.length;
  option.grid.push({left:PLOT_LEFT, top:top, width:PLOT_W, height:PANEL_H, show:true, borderColor:'#000', borderWidth:1, backgroundColor:'transparent'});
  option.grid.push({left:PLOT_LEFT, top:top, width:PLOT_W, height:UPPER_H});
  option.grid.push({left:PLOT_LEFT, top:top + LOWER_TOP, width:PLOT_W, height:LOWER_H});
  const xfmt = v => String(parseFloat((+v).toFixed(3)));
  const x0 = option.xAxis.length;
  option.xAxis.push(tickAxis({gridIndex:g0, position:'bottom', min:xr[0], max:xr[1]}, xMaj, 12, true, xfmt));
  option.xAxis[x0].axisLabel.margin = 12;
  option.xAxis.push(tickAxis({gridIndex:g0, position:'bottom', min:xr[0], max:xr[1]}, xMin, 6, false));
  option.xAxis.push(tickAxis({gridIndex:g0, position:'top', min:xr[0], max:xr[1]}, xMaj, 12, false));
  option.xAxis.push(tickAxis({gridIndex:g0, position:'top', min:xr[0], max:xr[1]}, xMin, 6, false));
  option.xAxis.push({type:'value', gridIndex:g0+1, min:xr[0], max:xr[1], show:false});
  option.xAxis.push({type:'value', gridIndex:g0+2, min:xr[0], max:xr[1], show:false});
  const xUp = x0 + 4, xLo = x0 + 5;
  const y0 = option.yAxis.length;
  option.yAxis.push({type:'value', gridIndex:g0, min:0, max:1, show:false});
  const yfmt = v => { const s = (+v).toFixed(2); return s.endsWith('0') ? s.slice(0, -1) : s; };
  option.yAxis.push(tickAxis({gridIndex:g0+1, position:'left', min:fluxRange[0], max:fluxRange[1]}, fluxMajor, 12, true, yfmt));
  option.yAxis[y0+1].axisLabel.margin = 16;
  option.yAxis.push(tickAxis({gridIndex:g0+1, position:'left', min:fluxRange[0], max:fluxRange[1]}, fluxMinor, 6, false));
  option.yAxis.push(tickAxis({gridIndex:g0+2, position:'right', min:hrRange[0], max:hrRange[1]}, hrTicks, 6, false));
  const yHr = y0 + 3;
  option.yAxis[yHr].axisLabel = {show:true, customValues:hrLabels, color:'#000', fontSize:18, fontFamily:SANS, margin:10, formatter:v => String(parseFloat((+v).toFixed(1)))};
  const yUp = y0 + 1;
  const ln = (data, color, width, extra) => Object.assign({type:'line', xAxisIndex:xUp, yAxisIndex:yUp, data:data, symbol:'none', showSymbol:false, connectNulls:false, clip:true, silent:true,
    lineStyle:{color:color, width:width}}, extra || {});
  option.series.push(ln(cont, '#ff0000', 1, {lineStyle:{color:'#ff0000', width:1.2, type:[2, 3]}}));
  option.series.push(ln(bumps, '#ff0000', 1, {lineStyle:{color:'#ff0000', width:1.2, type:[2, 3]}}));
  option.series.push(ln(blue, '#0000ff', 1.1));
  option.series.push(ln(black, '#000', 3, {step:'middle', lineStyle:{color:'#000', width:2.8, join:'bevel', cap:'butt'}}));
  option.series.push(ln(hr, '#000', 3, {xAxisIndex:xLo, yAxisIndex:yHr, lineStyle:{color:'#000', width:3, join:'round', cap:'round'}}));
  option.series.push(ln(markers, '#ff0000', 1.2));
  option.series.push({type:'scatter', xAxisIndex:xUp, yAxisIndex:yUp, symbolSize:0, silent:true, clip:false,
    data: labels.map(l => ({value:l.at, label:{show:true, formatter:l.name, rotate:90, position:'inside', align:'left', verticalAlign:'middle', color:'#ff0000', fontSize:16, fontFamily:LSANS}}))});
  if (addStars) {
    option.series.push({type:'scatter', xAxisIndex:xUp, yAxisIndex:yUp, symbolSize:0, silent:true, clip:false,
      data: starLabels.map(l => ({value:l.at, label:{show:true, formatter:l.name, position:'inside', align:'left', verticalAlign:'middle', color:'#000', fontSize:16, fontFamily:SERIF}}))});
  }
}

buildPanel(45, xRangeTop, xMajorTop, xMinorTop, v1331Top, modelTop, hrTop, continuumTop, lineBumpsTop, markersTop, lineLabelsTop, true);
buildPanel(412, xRangeBottom, xMajorBottom, xMinorBottom, v1331Bottom, modelBottom, hrBottom, continuumBottom, lineBumpsBottom, markersBottom, lineLabelsBottom, false);

option.graphic = [
  {type:'text', x:438, y:16, style:{text:'L2 Order 20', font:'16px ' + SANS, fill:'#000', align:'center', verticalAlign:'middle'}},
  {type:'text', x:42, y:333, rotation:Math.PI/2, style:{text:'Flux (Jy)', font:'17px ' + SERIF, fill:'#000', align:'center', verticalAlign:'middle'}},
  {type:'text', x:438, y:790, style:{text:'{n|Rest Wavelength (}{i|\u03bc}{n|m)}', fill:'#000', align:'center', verticalAlign:'middle',
    rich:{n:{font:'18px ' + SERIF, fill:'#000'}, i:{font:'italic 18px ' + SERIF, fill:'#000'}}}}
];

const chart = echarts.init(document.getElementById('c'), null, {renderer:'canvas'});
chart.setOption(option);
</script>
</body>
</html>
